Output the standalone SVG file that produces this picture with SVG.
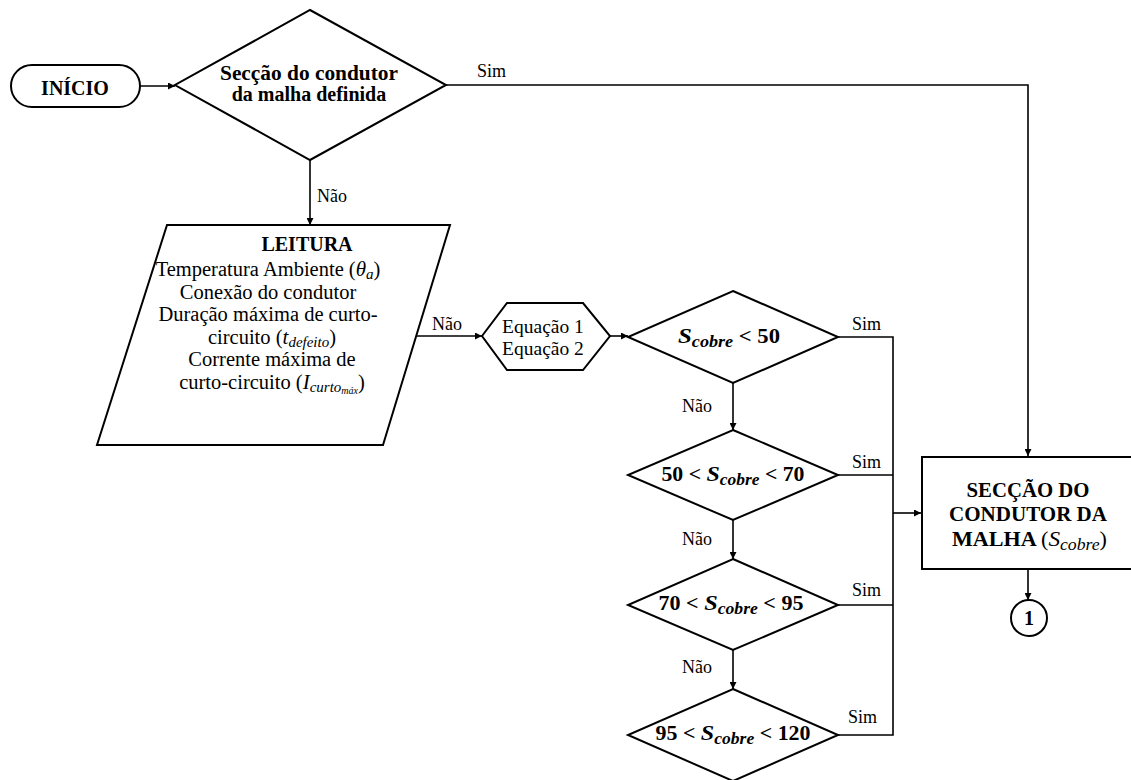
<svg xmlns="http://www.w3.org/2000/svg" width="1131" height="780" viewBox="0 0 1131 780">
<style>
  .shape { fill: #ffffff; stroke: #000000; stroke-width: 2; }
  .conn { fill: none; stroke: #000000; stroke-width: 1.6; }
  text { font-family: "Liberation Serif", "Tinos", "Times New Roman", "DejaVu Serif", serif; fill: #000; }
  .b { font-weight: bold; font-size: 20px; }
  .r { font-size: 20.5px; }
  .eq { font-size: 19.5px; }
  .lbl { font-size: 18px; }
  .m { font-style: italic; }
  .mid { text-anchor: middle; }
</style>
<defs>
  <marker id="arr" viewBox="0 0 10 10" refX="10" refY="5" markerWidth="8" markerHeight="7" markerUnits="userSpaceOnUse" orient="auto">
    <path d="M0,0 L10,5 L0,10 z" fill="#000"/>
  </marker>
</defs>
<rect width="1131" height="780" fill="#ffffff"/>

<g id="connectors">
  <path class="conn" d="M140,86 H175" marker-end="url(#arr)"/>
  <path class="conn" d="M446,85 H1028 V456" marker-end="url(#arr)"/>
  <path class="conn" d="M310,160 V225" marker-end="url(#arr)"/>
  <path class="conn" d="M416,336 H482" marker-end="url(#arr)"/>
  <path class="conn" d="M610,336 H628" marker-end="url(#arr)"/>
  <path class="conn" d="M838,337 H893 V735 H838"/>
  <path class="conn" d="M838,475 H893"/>
  <path class="conn" d="M838,605 H893"/>
  <path class="conn" d="M893,513 H921" marker-end="url(#arr)"/>
  <path class="conn" d="M733,383 V430" marker-end="url(#arr)"/>
  <path class="conn" d="M733,520 V559" marker-end="url(#arr)"/>
  <path class="conn" d="M733,650 V689" marker-end="url(#arr)"/>
  <path class="conn" d="M1028,569 V600" marker-end="url(#arr)"/>
  <text class="lbl" x="477" y="77">Sim</text>
  <text class="lbl" x="317" y="202">Não</text>
  <text class="lbl" x="432" y="330">Não</text>
  <text class="lbl" x="852" y="330">Sim</text>
  <text class="lbl" x="682" y="412">Não</text>
  <text class="lbl" x="852" y="468">Sim</text>
  <text class="lbl" x="682" y="545">Não</text>
  <text class="lbl" x="852" y="596">Sim</text>
  <text class="lbl" x="682" y="673">Não</text>
  <text class="lbl" x="848" y="723">Sim</text>
</g>

<g id="inicio">
  <rect class="shape" x="11" y="65" width="129" height="42" rx="21" ry="21"/>
  <text class="b mid" x="75" y="95">INÍCIO</text>
</g>

<g id="decisao-seccao">
  <polygon class="shape" points="310,10 446,85 310,160 175,85"/>
  <text class="b mid" x="309" y="80" textLength="178" lengthAdjust="spacingAndGlyphs">Secção do condutor</text>
  <text class="b mid" x="309" y="101">da malha definida</text>
</g>

<g id="leitura">
  <polygon class="shape" points="167,225 450,225 383,445 97,445"/>
  <text class="b mid" x="307" y="251">LEITURA</text>
  <text class="r mid" x="268" y="276">Temperatura Ambiente (<tspan class="m" font-size="21">θ</tspan><tspan class="m" font-size="15" dy="3">a</tspan><tspan dy="-3">)</tspan></text>
  <text class="r mid" x="268" y="298.5">Conexão do condutor</text>
  <text class="r mid" x="268" y="321">Duração máxima de curto-</text>
  <text class="r mid" x="272" y="343.5">circuito (<tspan class="m" font-size="21">t</tspan><tspan class="m" font-size="15" dy="3">defeito</tspan><tspan dy="-3">)</tspan></text>
  <text class="r mid" x="272" y="366">Corrente máxima de</text>
  <text class="r mid" x="272" y="388.5">curto-circuito (<tspan class="m" font-size="21">I</tspan><tspan class="m" font-size="15" dy="3">curto</tspan><tspan class="m" font-size="10" dy="2">máx</tspan><tspan dy="-5">)</tspan></text>
</g>

<g id="equacoes">
  <polygon class="shape" points="482,336 507,303 583,303 610,336 583,370 507,370"/>
  <text class="eq mid" x="543" y="333">Equação 1</text>
  <text class="eq mid" x="543" y="355">Equação 2</text>
</g>

<g id="decisao-50">
  <polygon class="shape" points="733,291 838,337 733,383 628,337"/>
  <text class="b mid" x="729" y="343" textLength="102" lengthAdjust="spacingAndGlyphs"><tspan class="m" font-size="22">S</tspan><tspan class="m" font-size="16" dy="4">cobre</tspan><tspan dy="-4"> &lt; 50</tspan></text>
</g>

<g id="decisao-50-70">
  <polygon class="shape" points="733,430 838,475 733,520 628,475"/>
  <text class="b mid" x="733" y="481" textLength="143" lengthAdjust="spacingAndGlyphs">50 &lt; <tspan class="m" font-size="22">S</tspan><tspan class="m" font-size="16" dy="4">cobre</tspan><tspan dy="-4"> &lt; 70</tspan></text>
</g>

<g id="decisao-70-95">
  <polygon class="shape" points="733,559 838,605 733,650 628,605"/>
  <text class="b mid" x="731" y="610" textLength="145" lengthAdjust="spacingAndGlyphs">70 &lt; <tspan class="m" font-size="22">S</tspan><tspan class="m" font-size="16" dy="4">cobre</tspan><tspan dy="-4"> &lt; 95</tspan></text>
</g>

<g id="decisao-95-120">
  <polygon class="shape" points="733,689 838,735 733,781 628,735"/>
  <text class="b mid" x="733" y="740" textLength="155" lengthAdjust="spacingAndGlyphs">95 &lt; <tspan class="m" font-size="22">S</tspan><tspan class="m" font-size="16" dy="4">cobre</tspan><tspan dy="-4"> &lt; 120</tspan></text>
</g>

<g id="seccao-condutor">
  <rect class="shape" x="922" y="457" width="220" height="112"/>
  <text class="b mid" x="1028" y="497" textLength="123" lengthAdjust="spacingAndGlyphs">SECÇÃO DO</text>
  <text class="b mid" x="1028" y="521" textLength="158" lengthAdjust="spacingAndGlyphs">CONDUTOR DA</text>
  <text class="b" x="952" y="546" textLength="155" lengthAdjust="spacingAndGlyphs">MALHA <tspan font-weight="normal">(</tspan><tspan font-weight="normal" class="m" font-size="21">S</tspan><tspan font-weight="normal" class="m" font-size="16" dy="4">cobre</tspan><tspan font-weight="normal" dy="-4">)</tspan></text>
</g>

<g id="conector-1">
  <circle class="shape" cx="1029" cy="618" r="18"/>
  <text class="b mid" x="1029" y="625">1</text>
</g>
</svg>
